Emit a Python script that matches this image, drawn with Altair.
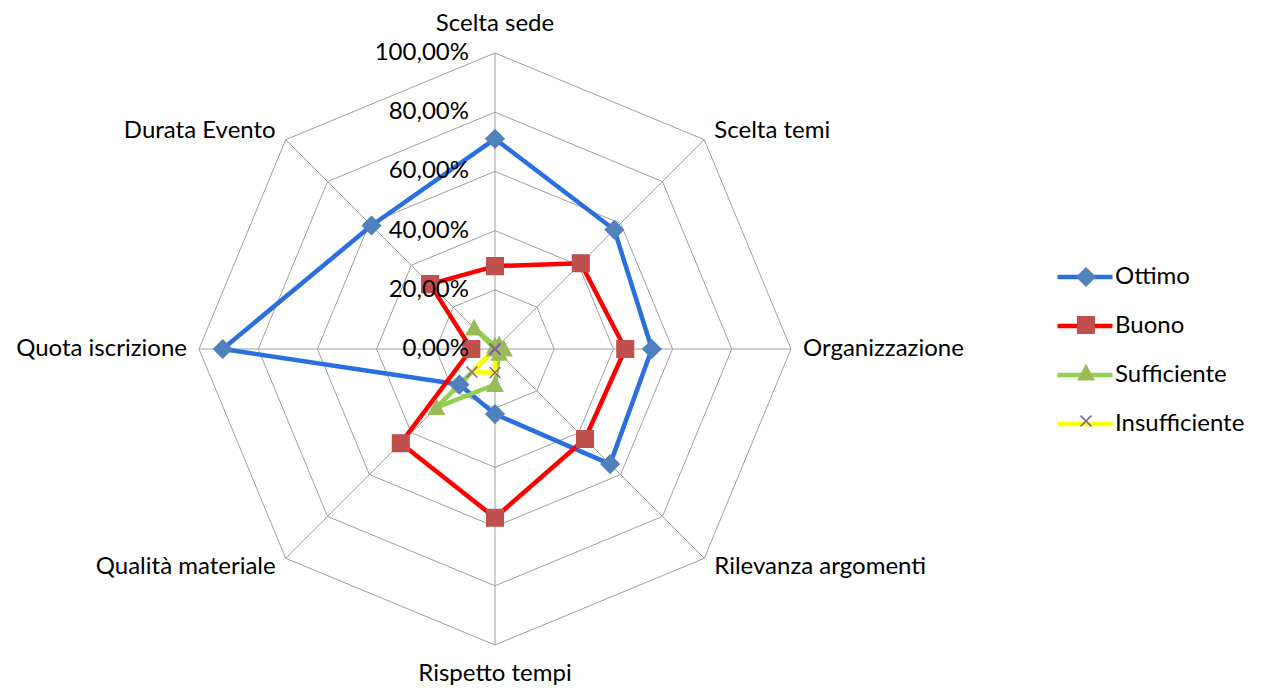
import altair as alt
import pandas as pd

# ---------------- data ----------------
categories = ["Scelta sede", "Scelta temi", "Organizzazione", "Rilevanza argomenti",
              "Rispetto tempi", "Qualità materiale", "Quota iscrizione", "Durata Evento"]
series = ["Ottimo", "Buono", "Sufficiente", "Insufficiente"]
ottimo = [0.71, 0.57, 0.53, 0.55, 0.22, 0.17, 0.92, 0.59]
buono = [0.28, 0.41, 0.44, 0.43, 0.57, 0.45, 0.08, 0.31]
sufficiente = [0.01, 0.02, 0.03, 0.02, 0.12, 0.28, 0.00, 0.10]
insufficiente = [0.00, 0.00, 0.00, 0.00, 0.08, 0.11, 0.00, 0.00]
levels = [0.0, 0.2, 0.4, 0.6, 0.8, 1.0]
tick_labels = ["0,00%", "20,00%", "40,00%", "60,00%", "80,00%", "100,00%"]

line_colors = ["#2A6FE0", "#FF0000", "#92D050", "#FFFF00"]
marker_colors = ["#4F81BD", "#C0504D", "#9BBB59", "#8064A2"]
marker_shapes = [
    "M0,-1L1,0L0,1L-1,0Z",
    "M-0.92,-0.92H0.92V0.92H-0.92Z",
    "M0,-0.85L0.85,0.75L-0.85,0.75Z",
    "M-0.6,-0.6L0.6,0.6M-0.6,0.6L0.6,-0.6",
]

values = {"Ottimo": ottimo, "Buono": buono, "Sufficiente": sufficiente, "Insufficiente": insufficiente}
N = len(categories)

# ---------------- geometry ----------------
PX = 296.0
W, H = 1248, 680
CX, CY = 487, 341
xs = alt.Scale(domain=[-CX / PX, (W - CX) / PX], nice=False, zero=False)
ys = alt.Scale(domain=[(CY - H) / PX, CY / PX], nice=False, zero=False)
FONT = "Lato"
FS = 24


def to_xy(chart, rfield):
    return chart.transform_calculate(
        theta=f"datum.idx * PI / {N / 2}"
    ).transform_calculate(
        x=f"datum.{rfield} * sin(datum.theta)",
        y=f"datum.{rfield} * cos(datum.theta)",
    )


# grid
grid_rows = []
for lv in levels[1:]:
    for k in range(N + 1):
        grid_rows.append({"lv": lv, "idx": k % N, "ord": k})
grid_df = pd.DataFrame(grid_rows)
grid = to_xy(alt.Chart(grid_df), "lv").mark_line(color="#A0A0A0", strokeWidth=1).encode(
    x=alt.X("x:Q", scale=xs, axis=None),
    y=alt.Y("y:Q", scale=ys, axis=None),
    detail="lv:N",
    order="ord:Q",
)

spoke_df = pd.DataFrame({"idx": list(range(N)), "r": [levels[-1]] * N})
spokes = to_xy(alt.Chart(spoke_df), "r").transform_calculate(x0="0", y0="0").mark_rule(
    color="#A0A0A0", strokeWidth=1
).encode(
    x=alt.X("x0:Q", scale=xs, axis=None),
    y=alt.Y("y0:Q", scale=ys, axis=None),
    x2="x:Q",
    y2="y:Q",
)

# category labels
cat_df = pd.DataFrame({"cat": categories, "idx": list(range(N)), "r": [levels[-1]] * N})
cat_base = to_xy(alt.Chart(cat_df), "r").transform_calculate(
    s="sin(datum.theta)", c="cos(datum.theta)"
).transform_calculate(
    ox="abs(datum.s) < 0.01 ? 0 : (abs(datum.c) < 0.01 ? 12 : 10) * (datum.s > 0 ? 1 : -1)",
    oy="abs(datum.c) < 0.01 ? 0 : (abs(datum.s) < 0.01 ? 29 : 9) * (datum.c > 0 ? 1 : -1)",
).transform_calculate(
    lx=f"datum.x + datum.ox / {PX}",
    ly=f"datum.y + datum.oy / {PX}",
)
cat_layers = []
for cond, al in [("datum.s > 0.01", "left"), ("datum.s < -0.01", "right"), ("abs(datum.s) <= 0.01", "center")]:
    cat_layers.append(
        cat_base.transform_filter(cond).mark_text(
            align=al, baseline="middle", font=FONT, fontSize=FS, color="#000000"
        ).encode(
            x=alt.X("lx:Q", scale=xs, axis=None),
            y=alt.Y("ly:Q", scale=ys, axis=None),
            text="cat:N",
        )
    )

# tick labels
tick_df = pd.DataFrame({"lv": levels, "lab": tick_labels, "x0": [0.0] * len(levels)})
ticks = alt.Chart(tick_df).mark_text(
    align="right", baseline="middle", dx=-26, font=FONT, fontSize=FS, color="#000000"
).encode(
    x=alt.X("x0:Q", scale=xs, axis=None),
    y=alt.Y("lv:Q", scale=ys, axis=None),
    text="lab:N",
)

# series
series_m = [s + " " for s in series]  # separate (label-less) legend for markers
line_rows, pt_rows = [], []
for si, s in enumerate(series):
    for k in range(N + 1):
        line_rows.append({"serie": s, "idx": k % N, "v": values[s][k % N], "ord": si * 100 + k})
    for k in range(N):
        pt_rows.append({"serie_m": series_m[si], "idx": k, "v": values[s][k], "ord": si})
line_df = pd.DataFrame(line_rows)
pt_df = pd.DataFrame(pt_rows)

lines = to_xy(alt.Chart(line_df), "v").mark_line(strokeWidth=4.5, strokeJoin="round").encode(
    x=alt.X("x:Q", scale=xs, axis=None),
    y=alt.Y("y:Q", scale=ys, axis=None),
    color=alt.Color(
        "serie:N",
        scale=alt.Scale(domain=series, range=line_colors),
        legend=alt.Legend(
            title=None, orient="none", legendX=1047, legendY=239,
            symbolType="stroke", symbolSize=3025, symbolStrokeWidth=4.5,
            labelFont=FONT, labelFontSize=FS, labelColor="#000000",
            labelOffset=0, rowPadding=7,
        ),
    ),
    order="ord:Q",
)

mleg = alt.Legend(
    title=None, orient="none", legendX=1066, legendY=257,
    labelFont=FONT, labelFontSize=FS, labelExpr="''", rowPadding=24,
    symbolSize=324, symbolStrokeWidth=1.5,
)
points = to_xy(alt.Chart(pt_df), "v").mark_point(filled=True, size=324, strokeWidth=1.5, opacity=1).encode(
    x=alt.X("x:Q", scale=xs, axis=None),
    y=alt.Y("y:Q", scale=ys, axis=None),
    shape=alt.Shape("serie_m:N", scale=alt.Scale(domain=series_m, range=marker_shapes), legend=mleg),
    fill=alt.Fill("serie_m:N", scale=alt.Scale(domain=series_m, range=marker_colors), legend=mleg),
    stroke=alt.Stroke("serie_m:N", scale=alt.Scale(domain=series_m, range=marker_colors), legend=mleg),
    order="ord:Q",
)

chart = alt.layer(grid, spokes, *cat_layers, lines, points, ticks).properties(
    width=W, height=H, padding=0, autosize=alt.AutoSizeParams(type="none"), background="white"
).configure_view(strokeWidth=0)

chart.save("out.html", embed_options={"renderer": "svg", "actions": False})
